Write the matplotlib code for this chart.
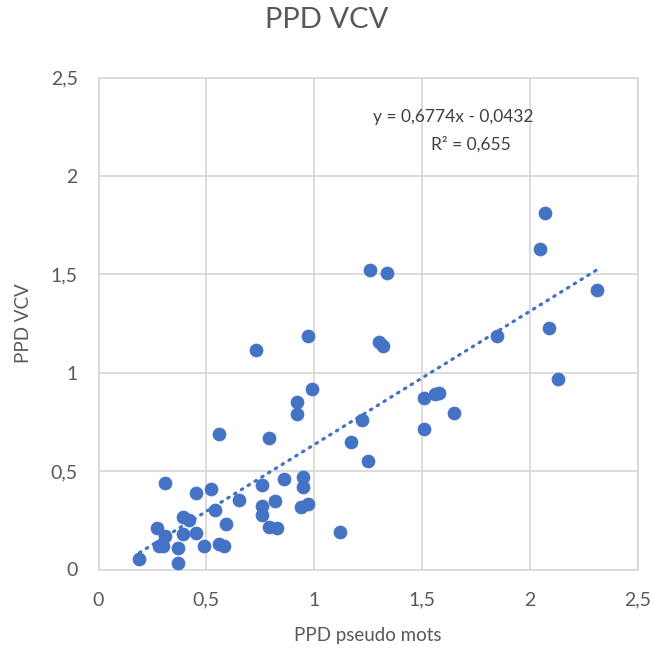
import matplotlib
matplotlib.use("Agg")
import matplotlib.pyplot as plt
import numpy as np
from matplotlib.ticker import FuncFormatter, MultipleLocator

plt.rcParams['font.family'] = ['Lato', 'DejaVu Sans']

pseudo_mots = [0.27, 0.28, 0.30, 0.31, 0.31, 0.19, 0.37, 0.37, 0.39, 0.39, 0.42, 0.45,
               0.45, 0.49, 0.52, 0.54, 0.56, 0.58, 0.59, 0.56, 0.65, 0.73, 0.76, 0.76,
               0.76, 0.79, 0.79, 0.82, 0.83, 0.86, 0.92, 0.92, 0.94, 0.97, 0.95, 0.95,
               0.97, 0.99, 1.12, 1.17, 1.22, 1.25, 1.26, 1.30, 1.32, 1.34, 1.51, 1.51,
               1.56, 1.58, 1.65, 1.85, 2.05, 2.07, 2.09, 2.13, 2.31]
vcv = [0.21, 0.12, 0.12, 0.17, 0.44, 0.055, 0.035, 0.11, 0.18, 0.265, 0.25, 0.39,
       0.185, 0.12, 0.41, 0.30, 0.13, 0.12, 0.23, 0.69, 0.355, 1.115, 0.43, 0.325,
       0.275, 0.67, 0.215, 0.35, 0.21, 0.46, 0.853, 0.79, 0.32, 0.333, 0.468, 0.42,
       1.188, 0.917, 0.19, 0.646, 0.762, 0.55, 1.522, 1.158, 1.137, 1.506, 0.873, 0.712,
       0.89, 0.895, 0.795, 1.189, 1.627, 1.81, 1.229, 0.968, 1.42]

slope = 0.6774
intercept = -0.0432
r2 = 0.655

blue = '#4472C4'
gray = '#595959'

fig = plt.figure(figsize=(6.53, 6.53), dpi=100)
ax = fig.add_axes([98.5/653, 1-569.5/653, (637.5-98.5)/653, (569.5-77.5)/653])

ax.scatter(pseudo_mots, vcv, s=88, color=blue, edgecolors=blue, linewidths=0.5, zorder=3)

xs = np.array([min(pseudo_mots), max(pseudo_mots)])
ax.plot(xs, slope*xs + intercept, color=blue, lw=2.3, linestyle=(0, (0.5, 2.0)),
        dash_capstyle='round', zorder=2)

ax.set_xlim(0, 2.5)
ax.set_ylim(0, 2.5)
ax.xaxis.set_major_locator(MultipleLocator(0.5))
ax.yaxis.set_major_locator(MultipleLocator(0.5))
fmt = FuncFormatter(lambda v, p: ('%g' % v).replace('.', ','))
ax.xaxis.set_major_formatter(fmt)
ax.yaxis.set_major_formatter(fmt)
ax.grid(True, color='#D9D9D9', lw=1.3, zorder=0)
ax.set_axisbelow(True)
for s in ax.spines.values():
    s.set_color('#D9D9D9')
    s.set_linewidth(1.3)
ax.tick_params(length=0, labelsize=14, colors=gray)
ax.tick_params(axis='x', pad=16)
ax.tick_params(axis='y', pad=15)

ax.set_xlabel('PPD pseudo mots', fontsize=13.5, color=gray, labelpad=13)
ax.set_ylabel('PPD VCV', fontsize=13.5, color=gray, labelpad=13)
fig.suptitle('PPD VCV', fontsize=21, color=gray, y=0.99)

eq = 'y = %sx - %s' % (('%.4f' % slope).replace('.', ','), ('%.4f' % abs(intercept)).replace('.', ','))
ax.text(0.658, 0.920, eq, transform=ax.transAxes, fontsize=12.5, color='#404040', ha='center', va='center')
ax.text(0.690, 0.863, 'R² = %s' % ('%.3f' % r2).replace('.', ','), transform=ax.transAxes,
        fontsize=12.5, color='#404040', ha='center', va='center')

fig.savefig('out.png', dpi=100)
